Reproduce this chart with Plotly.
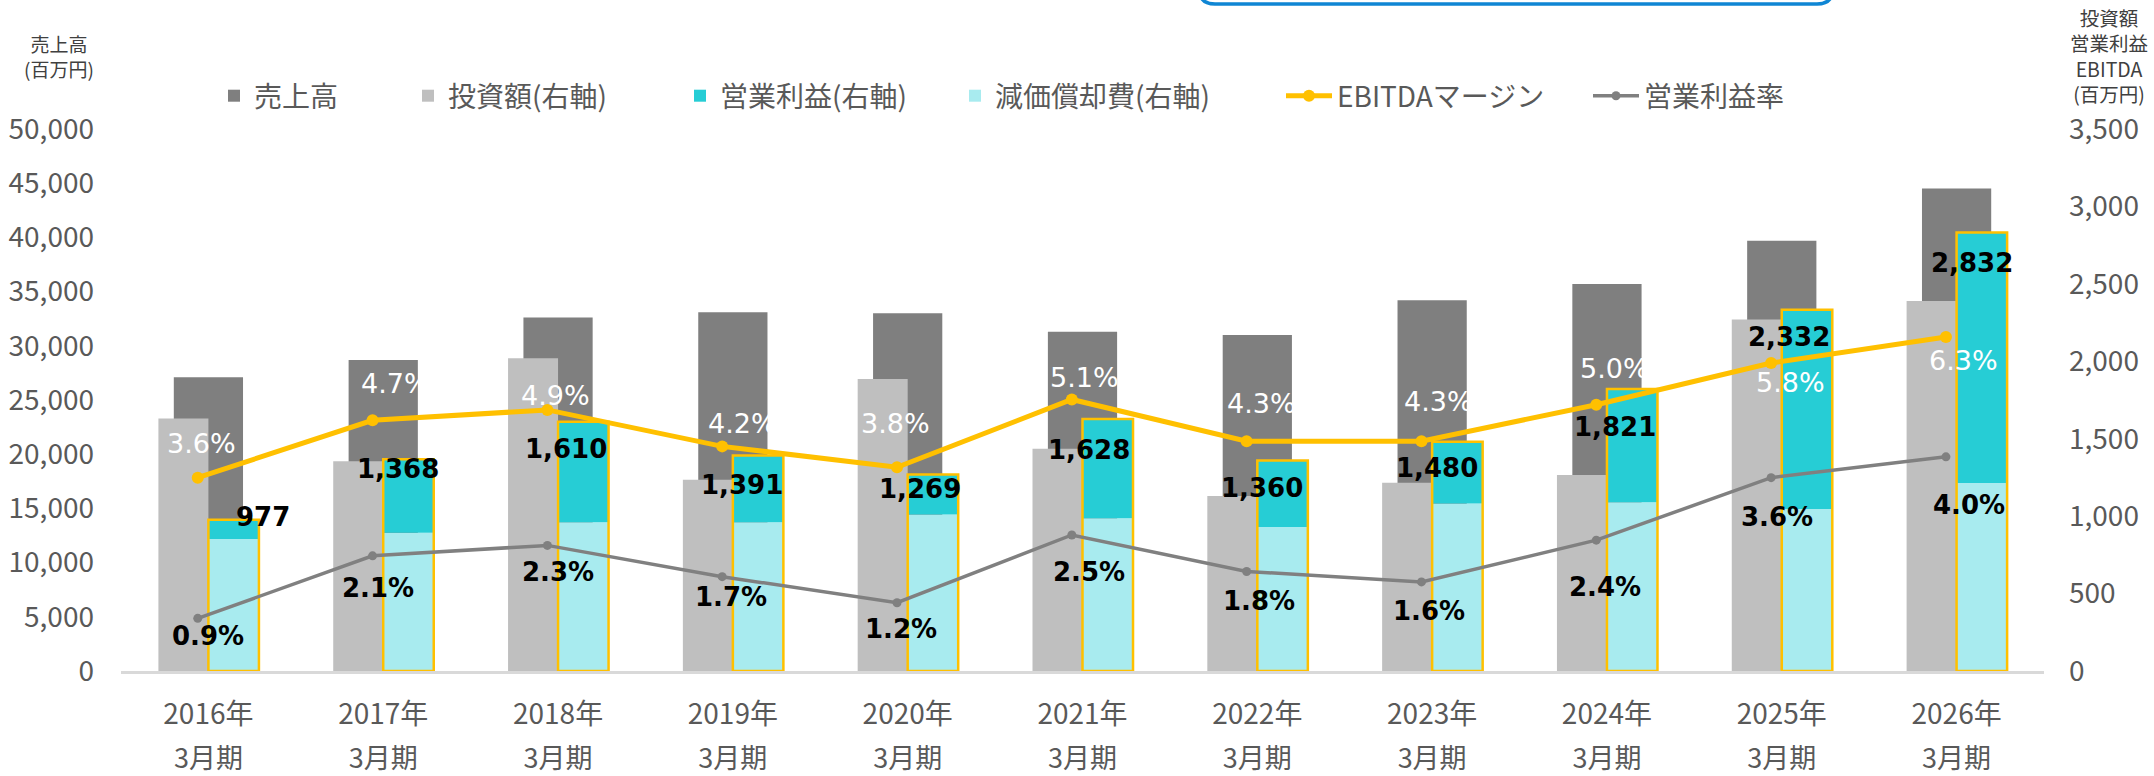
import plotly.graph_objects as go

# ---------------- data ----------------
years = ["2016年", "2017年", "2018年", "2019年", "2020年", "2021年",
         "2022年", "2023年", "2024年", "2025年", "2026年"]
periods = ["3月期", "3月期", "3月期", "3月期", "3月期", "3月期",
           "3月期", "3月期", "3月期", "3月期", "3月期"]

sales = [27100, 28700, 32600, 33100, 33000, 31300, 31000, 34200, 35700, 39700, 44500]      # 売上高 (left)
capex = [1630, 1355, 2020, 1235, 1885, 1435, 1130, 1215, 1265, 2270, 2390]                 # 投資額 (right)
depreciation = [853, 892, 960, 960, 1010, 986, 930, 1081, 1089, 1046, 1214]                # 減価償却費 (right)
op_profit = [124, 476, 650, 431, 259, 642, 430, 399, 732, 1286, 1618]                      # 営業利益 (right)
ebitda = [977, 1368, 1610, 1391, 1269, 1628, 1360, 1480, 1821, 2332, 2832]                 # EBITDA (right)
ebitda_margin = [3.6, 4.7, 4.9, 4.2, 3.8, 5.1, 4.3, 4.3, 5.0, 5.8, 6.3]                     # %
op_margin = [0.9, 2.1, 2.3, 1.7, 1.2, 2.5, 1.8, 1.6, 2.4, 3.6, 4.0]                         # %

left_ticks = [0, 5000, 10000, 15000, 20000, 25000, 30000, 35000, 40000, 45000, 50000]
right_ticks = [0, 500, 1000, 1500, 2000, 2500, 3000, 3500]

# ---------------- label nudges (pixels, style only) ----------------
ebitda_dx = [55, 15, 8, 9, 12, 6, 5, 5, 8, 7, 15]
ebitda_dy = [-3, 10, 27, 29, 15, 31, 28, 26, 38, 27, 31]
em_dx = [-7, 12, -3, 10, -12, 2, 4, 6, 8, 9, 7]
em_dy = [-34, -37, -14, -23, -44, -22, -38, -40, -36, 19, 24]
om_dx = [0, -5, 0, -2, -7, 6, 2, -3, -2, -5, 12]
om_dy = [18, 32, 27, 20, 26, 37, 30, 29, 47, 39, 48]

JP = "Noto Sans CJK JP"
TICK_COLOR = "#595959"
C_SALES = "#7F7F7F"
C_CAPEX = "#BFBFBF"
C_OP = "#26CDD5"
C_DA = "#A8EBEF"
C_YEL = "#FFC000"
C_GRAY_LINE = "#808080"

fig = go.Figure()

fig.add_bar(x=years, y=sales, name="売上高", marker=dict(color=C_SALES, line=dict(width=0)),
            width=0.396, offset=-0.198, yaxis="y", legend="legend", hoverinfo="skip")
fig.add_bar(x=years, y=capex, name="投資額(右軸)", marker=dict(color=C_CAPEX, line=dict(width=0)),
            width=0.286, offset=-0.286, yaxis="y2", legend="legend2", hoverinfo="skip")
fig.add_bar(x=years, y=depreciation, name="減価償却費(右軸)", marker=dict(color=C_DA, line=dict(width=0)),
            width=0.289, offset=0, yaxis="y2", legend="legend4", hoverinfo="skip")
fig.add_bar(x=years, y=op_profit, base=depreciation, name="営業利益(右軸)",
            marker=dict(color=C_OP, line=dict(width=0)),
            width=0.289, offset=0, yaxis="y2", legend="legend3", hoverinfo="skip")
fig.add_bar(x=years, y=ebitda, name="EBITDA", showlegend=False,
            marker=dict(color="rgba(0,0,0,0)", line=dict(color=C_YEL, width=2.5)),
            width=0.289, offset=0, yaxis="y2", hoverinfo="skip")

fig.add_scatter(x=years, y=ebitda_margin, name="EBITDAマージン", xaxis="x2", yaxis="y3",
                mode="lines+markers", line=dict(color=C_YEL, width=5),
                marker=dict(color=C_YEL, size=12), legend="legend5", hoverinfo="skip")
fig.add_scatter(x=years, y=op_margin, name="営業利益率", xaxis="x2", yaxis="y3",
                mode="lines+markers", line=dict(color=C_GRAY_LINE, width=3.5),
                marker=dict(color=C_GRAY_LINE, size=9), legend="legend6", hoverinfo="skip")
# carrier for the second row of category labels
fig.add_scatter(x=years, y=[None] * len(years), xaxis="x3", yaxis="y", showlegend=False,
                hoverinfo="skip", mode="markers")

annotations = []
for i, y in enumerate(years):
    annotations.append(dict(x=y, y=ebitda[i], xref="x", yref="y2", text=f"{ebitda[i]:,}",
                            showarrow=False, xshift=ebitda_dx[i], yshift=-ebitda_dy[i],
                            font=dict(family="DejaVu Sans", size=26, color="black", weight="bold")))
    annotations.append(dict(x=y, y=ebitda_margin[i], xref="x", yref="y3", text=f"{ebitda_margin[i]:.1f}%",
                            showarrow=False, xshift=em_dx[i], yshift=-em_dy[i],
                            font=dict(family="DejaVu Sans", size=27, color="white")))
    annotations.append(dict(x=y, y=op_margin[i], xref="x", yref="y3", text=f"{op_margin[i]:.1f}%",
                            showarrow=False, xshift=om_dx[i], yshift=-om_dy[i],
                            font=dict(family="DejaVu Sans", size=26, color="black", weight="bold")))

W, H = 2154, 776
L, R, T, B = 121, 110, 129, 105
PW, PH = W - L - R, H - T - B


def px_x(px):
    return (px - L) / PW


def px_y(py):
    return (H - B - py) / PH


annotations.append(dict(x=px_x(59), y=px_y(56), xref="paper", yref="paper",
                        xanchor="center", yanchor="middle",
                        text="売上高<br>(百万円)", showarrow=False,
                        font=dict(family=JP, size=19, color="#404040")))
annotations.append(dict(x=px_x(2109), y=px_y(55), xref="paper", yref="paper",
                        xanchor="center", yanchor="middle",
                        text="投資額<br>営業利益<br>EBITDA<br>(百万円)", showarrow=False,
                        font=dict(family=JP, size=19.5, color="#404040")))

# partially visible rounded box at the very top
x0, x1 = px_x(1199), px_x(1833)
yb, yt = px_y(4), px_y(-40)
rx, ry = 16 / PW, 16 / PH
box_path = (f"M {x0},{yt} L {x0},{yb + ry} Q {x0},{yb} {x0 + rx},{yb} "
            f"L {x1 - rx},{yb} Q {x1},{yb} {x1},{yb + ry} L {x1},{yt}")

leg_common = dict(orientation="h", xref="container", yref="container", xanchor="left",
                  yanchor="middle", bgcolor="rgba(0,0,0,0)", borderwidth=0,
                  font=dict(family=JP, size=28, color=TICK_COLOR))
ly = 1 - 96 / H

fig.update_layout(
    width=W, height=H,
    margin=dict(l=L, r=R, t=T, b=B, pad=0, autoexpand=False),
    paper_bgcolor="white", plot_bgcolor="white",
    barmode="overlay",
    showlegend=True,
    font=dict(family=JP, color=TICK_COLOR),
    legend=dict(leg_common, x=214 / W, y=ly),
    legend2=dict(leg_common, x=408 / W, y=ly),
    legend3=dict(leg_common, x=680 / W, y=ly),
    legend4=dict(leg_common, x=955 / W, y=ly),
    legend5=dict(leg_common, x=1281 / W, y=ly, itemwidth=46),
    legend6=dict(leg_common, x=1588 / W, y=ly, itemwidth=46),
    xaxis=dict(type="category", range=[-0.5, 10.5], showgrid=False, zeroline=False,
               showline=True, linecolor="#D9D9D9", linewidth=2.5, ticks="", automargin=False,
               tickfont=dict(family=JP, size=28, color=TICK_COLOR), ticklabelstandoff=17),
    xaxis2=dict(type="category", overlaying="x", range=[-0.5 + 0.061, 10.5 + 0.061],
                visible=False, automargin=False),
    xaxis3=dict(type="category", overlaying="x", range=[-0.5, 10.5], anchor="y", side="bottom",
                showgrid=False, zeroline=False, showline=False, ticks="", automargin=False,
                tickmode="array", tickvals=years, ticktext=periods,
                tickfont=dict(family=JP, size=27, color=TICK_COLOR), ticklabelstandoff=69),
    yaxis=dict(range=[0, 50000], tickmode="array", tickvals=left_ticks, tickformat=",",
               showgrid=False, zeroline=False, showline=False, ticks="", automargin=False,
               tickfont=dict(family=JP, size=28, color=TICK_COLOR), ticklabelstandoff=26),
    yaxis2=dict(range=[0, 3500], overlaying="y", side="right", tickmode="array",
                tickvals=right_ticks, tickformat=",", showgrid=False, zeroline=False,
                showline=False, ticks="", automargin=False,
                tickfont=dict(family=JP, size=28, color=TICK_COLOR), ticklabelstandoff=24),
    yaxis3=dict(range=[-0.11, 10.29], overlaying="y", visible=False, automargin=False),
    annotations=annotations,
    shapes=[dict(type="path", xref="paper", yref="paper", path=box_path,
                 line=dict(color="#0F86D4", width=3.5), fillcolor="rgba(0,0,0,0)")],
)

fig.write_html("out.html", config={"displayModeBar": False},
               post_script="document.body.style.margin='0';document.body.style.overflow='hidden';")
